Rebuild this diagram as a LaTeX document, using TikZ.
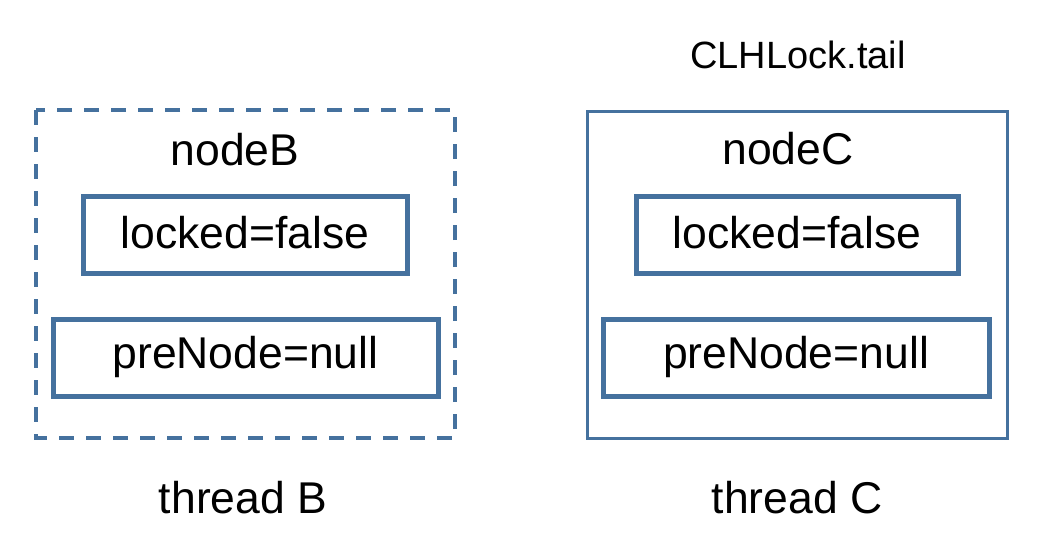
\documentclass[tikz,border=0pt]{standalone}
\usepackage{fontspec}
\setmainfont{Liberation Sans}
\definecolor{boxblue}{HTML}{45719E}
\begin{document}
\begin{tikzpicture}[x=1pt,y=-1pt,
  lbl/.style={font=\fontsize{44.5}{52}\selectfont, inner sep=0pt, anchor=center},
  small/.style={font=\fontsize{38}{44}\selectfont, inner sep=0pt, anchor=center},
  field/.style={draw=boxblue, line width=5pt, inner sep=0pt},
  outer/.style={draw=boxblue, line width=3pt},
  outerdash/.style={draw=boxblue, line width=3.5pt, dash pattern=on 15pt off 12pt}]
\useasboundingbox (0,0) rectangle (1064,546);
% left
\draw[outerdash] (36,110) rectangle (455,438);
\node[lbl] (nB) at (235,150) {nodeB};
\draw[field] (83,196) rectangle (407,273);
\node[lbl] (lB) at (245,233) {locked=false};
\draw[field] (53,319) rectangle (438,396);
\node[lbl] (pB) at (245.5,356.5) {preNode=null};
\node[lbl] (tB) at (243,498) {thread B};
% right
\node[small] (tail) at (798,55) {CLHLock.tail};
\draw[outer] (587,111) rectangle (1007,438);
\node[lbl] (nC) at (788,149) {nodeC};
\draw[field] (636,196) rectangle (958,273);
\node[lbl] (lC) at (797,233) {locked=false};
\draw[field] (603,319) rectangle (989,396);
\node[lbl] (pC) at (796,356.5) {preNode=null};
\node[lbl] (tC) at (797,498) {thread C};
\end{tikzpicture}
\end{document}
